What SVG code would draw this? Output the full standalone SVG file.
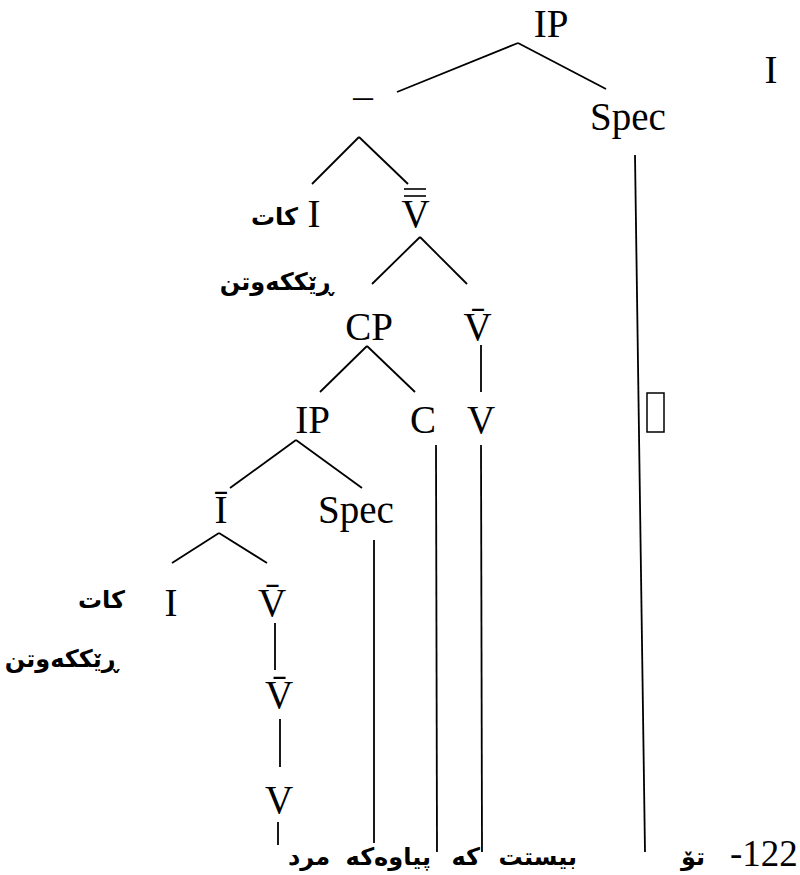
<svg xmlns="http://www.w3.org/2000/svg" width="800" height="875" viewBox="0 0 800 875">
<style>
.n{font-family:"Liberation Serif","Times New Roman",serif;font-size:39px;text-anchor:middle;fill:#000}
.a{font-family:"DejaVu Sans",sans-serif;font-weight:bold;font-size:24px;text-anchor:end;fill:#000}
.c line{stroke:#000;stroke-width:1.8;stroke-linecap:butt}
.bar{stroke:#000;stroke-width:1.6}
</style>
<rect width="800" height="875" fill="#fff"/>
<g class="c" id="connectors">
<line x1="518" y1="43" x2="397" y2="92"/>
<line x1="518" y1="43" x2="606" y2="89"/>
<line x1="359" y1="137" x2="312" y2="184"/>
<line x1="359" y1="137" x2="408" y2="184"/>
<line x1="420" y1="237" x2="372" y2="284"/>
<line x1="420" y1="237" x2="467" y2="284"/>
<line x1="367" y1="346" x2="320" y2="392"/>
<line x1="367" y1="346" x2="415" y2="392"/>
<line x1="481" y1="345" x2="481" y2="392"/>
<line x1="296" y1="440" x2="230" y2="488"/>
<line x1="296" y1="440" x2="362" y2="488"/>
<line x1="219" y1="533" x2="172" y2="563"/>
<line x1="219" y1="533" x2="267" y2="563"/>
<line x1="275" y1="623" x2="275" y2="670"/>
<line x1="280" y1="719" x2="280" y2="767"/>
<line x1="278" y1="822" x2="278" y2="845"/>
<line x1="374" y1="540" x2="374" y2="843"/>
<line x1="436" y1="445" x2="437" y2="852"/>
<line x1="481" y1="445" x2="482" y2="852"/>
<line x1="635" y1="155" x2="645" y2="852"/>
</g>
<g id="n-ip-top"><text class="n" x="551" y="37">IP</text></g>
<g id="n-ibar-top"><text class="n" x="363" y="129">¯</text></g>
<g id="n-spec-top"><text class="n" x="628" y="130">Spec</text></g>
<g id="n-i-right"><text class="n" x="771" y="83">I</text></g>
<g id="n-i-1"><text class="n" x="314" y="227">I</text><text class="a" x="298" y="225">کات</text><text class="a" x="333" y="290">ڕێککەوتن</text></g>
<g id="n-vbb"><text class="n" x="415.5" y="227">V</text><line class="bar" x1="404" y1="189" x2="426" y2="189"/><line class="bar" x1="404" y1="196" x2="426" y2="196"/></g>
<g id="n-cp"><text class="n" x="369" y="340">CP</text></g>
<g id="n-vb-1"><text class="n" x="477.5" y="340">V&#x304;</text></g>
<g id="n-ip-2"><text class="n" x="312.5" y="433">IP</text></g>
<g id="n-c"><text class="n" x="423" y="433">C</text></g>
<g id="n-v-1"><text class="n" x="481" y="433">V</text></g>
<g id="n-ibar-2"><text class="n" x="221" y="523">I&#x304;</text></g>
<g id="n-spec-2"><text class="n" x="356" y="523">Spec</text></g>
<g id="n-i-2"><text class="n" x="171" y="616">I</text><text class="a" x="125" y="608">کات</text><text class="a" x="118" y="667">ڕێککەوتن</text></g>
<g id="n-vb-2"><text class="n" x="272" y="616">V&#x304;</text></g>
<g id="n-vb-3"><text class="n" x="279" y="708">V&#x304;</text></g>
<g id="n-v-2"><text class="n" x="279" y="813">V</text></g>
<rect x="647" y="393" width="17" height="39" fill="none" stroke="#000" stroke-width="1.5"/>
<g id="words">
<text class="a" x="330" y="865">مرد</text>
<text class="a" x="431" y="865">پیاوەکە</text>
<text class="a" x="480" y="865">کە</text>
<text class="a" x="577" y="865">بیستت</text>
<text class="a" x="705" y="865">تۆ</text>
<text class="n" x="730" y="866" style="text-anchor:start;font-size:37px">-122</text>
</g>
</svg>
